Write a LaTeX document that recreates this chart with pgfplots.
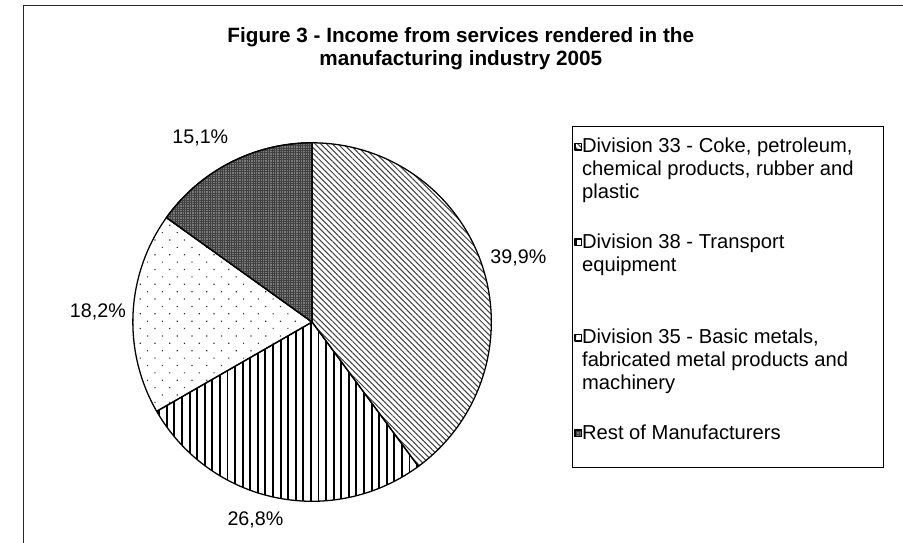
\documentclass[border=0pt]{standalone}
\usepackage{fontspec}
\setmainfont{Liberation Sans}
\usepackage{pgfplots}
\usepackage{pgfplotstable}
\pgfplotsset{compat=1.18}
\usetikzlibrary{patterns.meta}

\pgfplotstableread{
label value
D33 39.9
D38 26.8
D35 18.2
Rest 15.1
}\piedata

\newcommand{\entry}[1]{\raisebox{0pt}[16pt][7pt]{\parbox[t]{300pt}{\strut #1}}}

\begin{document}
\pgfplotstablegetelem{0}{value}\of\piedata\let\va\pgfplotsretval
\pgfplotstablegetelem{1}{value}\of\piedata\let\vb\pgfplotsretval
\pgfplotstablegetelem{2}{value}\of\piedata\let\vc\pgfplotsretval
\pgfplotstablegetelem{3}{value}\of\piedata\let\vd\pgfplotsretval
\pgfmathsetmacro{\aA}{90}
\pgfmathsetmacro{\aB}{\aA-3.6*\va}
\pgfmathsetmacro{\aC}{\aB-3.6*\vb}
\pgfmathsetmacro{\aD}{\aC-3.6*\vc}
\pgfmathsetmacro{\aE}{\aD-3.6*\vd}
\begin{tikzpicture}
\useasboundingbox (0,0) rectangle (903pt,551pt);
\begin{axis}[
  at={(0,0)}, anchor=south west,
  scale only axis, width=903pt, height=551pt,
  xmin=0, xmax=903, ymin=0, ymax=551,
  hide axis, clip=false,
  samples=150,
  legend cell align=left,
  legend style={at={(axis cs:565,412)}, anchor=north west, draw=none, fill=none,
    inner xsep=0pt, inner ysep=0pt,
    font=\fontsize{20.5}{23}\selectfont, nodes={inner sep=0pt},
    row sep=79.5pt, column sep=0pt},
  legend image code/.code={
    \draw[#1, line width=1.4pt] (4.7pt,-4.3pt) rectangle (11.3pt,2.3pt);
    \pgfpathmoveto{\pgfpointorigin}\pgfpathlineto{\pgfpoint{12pt}{0pt}}\pgfusepath{}
  },
  pieslice/.style={draw=black, line width=1.3pt, line join=round},
]
\addplot[pieslice, pattern={Lines[angle=-45,distance=4.1pt,line width=1.05pt]},
  pattern color=black!75, domain=\aB:\aA]
  ({303+182*cos(x)},{224+182*sin(x)}) -- (axis cs:303,224) -- cycle;
\addlegendentry{\entry{Division 33 - Coke, petroleum,\\chemical products, rubber and\\plastic}}
\addplot[pieslice, pattern={Lines[angle=90,distance=7.7pt,line width=2pt]},
  pattern color=black, domain=\aC:\aB]
  ({303+182*cos(x)},{224+182*sin(x)}) -- (axis cs:303,224) -- cycle;
\addlegendentry{\entry{Division 38 - Transport\\equipment}}
\addplot[pieslice, pattern={Dots[distance=10.6pt,angle=45,radius=0.85pt]},
  pattern color=black!80, domain=\aD:\aC]
  ({303+182*cos(x)},{224+182*sin(x)}) -- (axis cs:303,224) -- cycle;
\addlegendentry{\entry{Division 35 - Basic metals,\\fabricated metal products and\\machinery}}
\addplot[pieslice, fill=black!52,
  postaction={pattern={Hatch[distance=2.4pt,line width=0.5pt]}, pattern color=black!75},
  domain=\aE:\aD]
  ({303+182*cos(x)},{224+182*sin(x)}) -- (axis cs:303,224) -- cycle;
\addlegendentry{\entry{Rest of Manufacturers}}

% legend frame
\draw[line width=1pt, black] (axis cs:567,423) rectangle (axis cs:883,76);

\node[font=\fontsize{20}{23}\selectfont] at (axis cs:512.5,289) {39,9\%};
\node[font=\fontsize{20}{23}\selectfont] at (axis cs:245.5,23) {26,8\%};
\node[font=\fontsize{20}{23}\selectfont] at (axis cs:85.5,234) {18,2\%};
\node[font=\fontsize{20}{23}\selectfont] at (axis cs:189.5,411) {15,1\%};

\node[font=\fontsize{21}{24}\selectfont\bfseries, anchor=base] at (axis cs:454,507.5) {Figure 3 - Income from services rendered in the};
\node[font=\fontsize{21}{24}\selectfont\bfseries, anchor=base] at (axis cs:454,484.5) {manufacturing industry 2005};

\draw[line width=1.3pt, black!85] (axis cs:10,0) -- (axis cs:10,545.5) -- (axis cs:903,545.5);
\end{axis}
\end{tikzpicture}
\end{document}
